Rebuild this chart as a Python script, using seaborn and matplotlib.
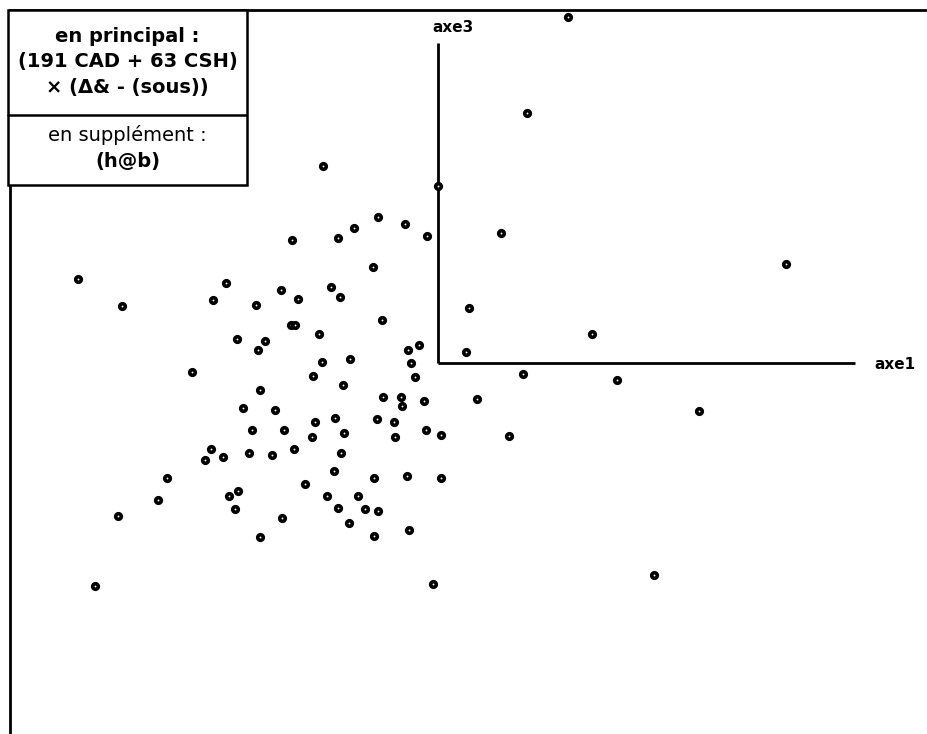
import matplotlib
matplotlib.use("Agg")
import matplotlib.pyplot as plt
import seaborn as sns
import pandas as pd
from matplotlib.patches import Rectangle

# ---- data (factor coordinates) ----
axe1 = [1.30, 0.89, -1.15, 0.00, -0.60, -0.33, -0.84, -1.46, -1.00, -0.11,
        0.63, -0.65, 3.49, -3.60, -3.16, -2.12, -2.25, -1.82, -1.57, -1.40,
        -1.07, -0.98, 0.31, -0.56, -1.47, -1.43, -1.19, -2.01, -1.73, -1.80,
        1.54, -0.30, -0.19, 0.28, -1.16, -0.88, -0.27, -2.46, -1.25, -0.23,
        -0.95, 0.85, 1.79, -1.78, -0.55, -0.37, -0.36, -0.14, 0.39, -1.95,
        -1.63, 2.62, -0.61, -0.44, -1.03, -1.23, -1.54, -1.86, -1.26, -0.94,
        -0.43, -0.12, 0.03, 0.71, -1.66, -1.44, -0.97, -1.89, -2.27, -2.15,
        -2.33, -1.04, -2.71, -2.80, -2.00, -2.09, -2.03, -3.20, -1.78, -3.43,
        -1.33, -0.64, -0.31, 0.03, -1.11, -0.80, -1.00, -0.73, -0.60, -1.56,
        -0.89, -0.64, -0.29, -0.05, 2.17]
axe3 = [3.46, 2.50, 1.97, 1.77, 1.46, 1.39, 1.35, 1.23, 1.25, 1.27,
        1.30, 0.96, 0.99, 0.84, 0.57, 0.80, 0.63, 0.58, 0.73, 0.64,
        0.76, 0.66, 0.55, 0.43, 0.38, 0.38, 0.29, 0.24, 0.22, 0.13,
        0.29, 0.13, 0.18, 0.11, 0.01, 0.04, 0.00, -0.09, -0.13, -0.14,
        -0.22, -0.11, -0.17, -0.27, -0.34, -0.34, -0.43, -0.38, -0.36, -0.45,
        -0.47, -0.48, -0.56, -0.59, -0.55, -0.59, -0.67, -0.67, -0.74, -0.70,
        -0.74, -0.67, -0.72, -0.73, -0.92, -0.86, -0.90, -0.90, -0.86, -0.94,
        -0.97, -1.08, -1.15, -1.37, -1.28, -1.33, -1.46, -1.53, -1.74, -2.23,
        -1.21, -1.15, -1.13, -1.15, -1.33, -1.33, -1.45, -1.46, -1.48, -1.55,
        -1.60, -1.73, -1.67, -2.21, -2.12]

axis_labels = ["axe1", "axe3"]
box_main = ["en principal :", "(191 CAD + 63 CSH)", "\u00d7 (\u0394& - (sous))"]
box_supp = ["en suppl\u00e9ment :", "(h@b)"]

df = pd.DataFrame({"axe1": axe1, "axe3": axe3})

# ---- figure ----
W, H, DPI = 928, 734, 100
sns.set_theme(style="white")
plt.rcParams["font.family"] = ["DejaVu Sans"]
fig = plt.figure(figsize=(W / DPI, H / DPI), dpi=DPI)
fig.patch.set_facecolor("white")

def fx(px):
    return px / W

def fy(py):
    return 1 - py / H

# axes: left frame at x=10px, top frame at y=10px, extends beyond the image
ax = fig.add_axes([fx(10), fy(740), fx(928) - fx(10) + 0.01, fy(10) - fy(740)])
ax.set_xlim((10 - 438) / 100, (938 - 438) / 100)
ax.set_ylim((362.5 - 740) / 100, (362.5 - 10) / 100)
for s in ["right", "bottom"]:
    ax.spines[s].set_visible(False)
for s in ["left", "top"]:
    ax.spines[s].set_color("black")
    ax.spines[s].set_linewidth(2.0)
ax.set_xticks([])
ax.set_yticks([])

# factor axes
ax1_len = (856 - 438) / 100
ax3_len = (362.5 - 43) / 100
ax.plot([0, ax1_len], [0, 0], color="black", lw=2.0, solid_capstyle="butt", zorder=2)
ax.plot([0, 0], [0, ax3_len], color="black", lw=2.0, solid_capstyle="butt", zorder=2)
ax.text(ax1_len + 0.19, -0.02, axis_labels[0], fontsize=11, fontweight="bold",
        ha="left", va="center", color="black")
ax.text(-0.05, ax3_len + 0.16, axis_labels[1], fontsize=11, fontweight="bold",
        ha="left", va="center", color="black")

sns.scatterplot(data=df, x="axe1", y="axe3", ax=ax, s=16, marker="o",
                facecolor="white", edgecolor="black", linewidth=2.6,
                zorder=3, legend=False, clip_on=False)
ax.set_xlabel("")
ax.set_ylabel("")

# text box top-left
box_left, box_right, box_top, box_mid, box_bot = 8.5, 246.5, 10, 115, 185
fig.patches.append(Rectangle((fx(box_left), fy(box_bot)), fx(box_right) - fx(box_left),
                             fy(box_top) - fy(box_bot), transform=fig.transFigure,
                             facecolor="white", edgecolor="black", lw=1.8, zorder=5))
fig.add_artist(plt.Line2D([fx(box_left), fx(box_right)], [fy(box_mid), fy(box_mid)],
                          transform=fig.transFigure, color="black", lw=1.8, zorder=6))
cx = fx((box_left + box_right) / 2)
for txt, py in zip(box_main, [37, 62, 88]):
    fig.text(cx, fy(py), txt, ha="center", va="center", fontsize=14,
             fontweight="bold", color="black", zorder=7)
for txt, py, wt in zip(box_supp, [135, 161], ["normal", "bold"]):
    fig.text(cx, fy(py), txt, ha="center", va="center", fontsize=14,
             fontweight=wt, color="black", zorder=7)

fig.savefig("out.png", dpi=DPI)
